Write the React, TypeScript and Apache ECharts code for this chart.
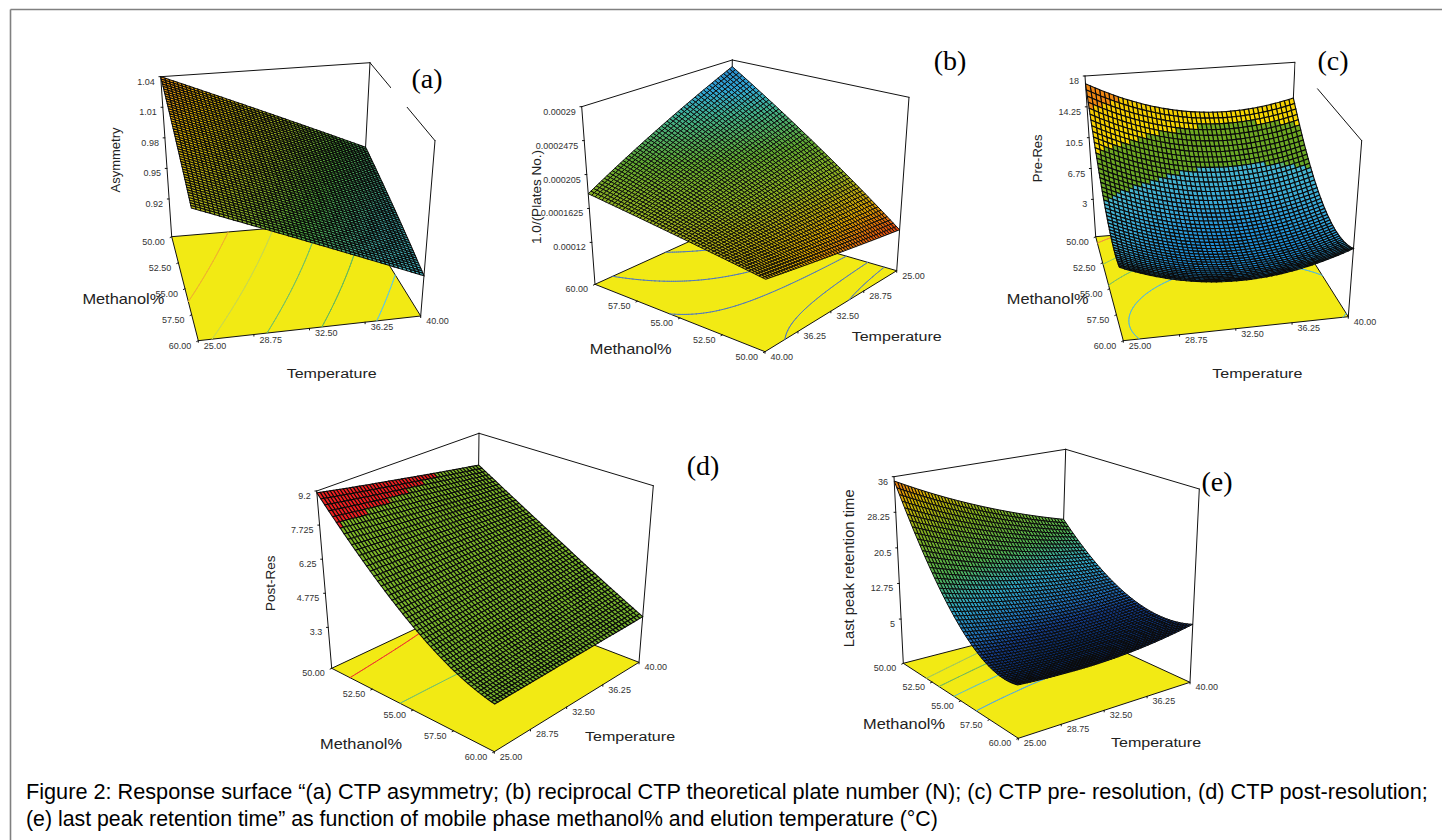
import React, { useEffect, useRef } from "react";
import * as echarts from "echarts";

const temperatureTicks = [25, 28.75, 32.5, 36.25, 40];
const methanolTicks = [50, 52.5, 55, 57.5, 60];
const temperatureLabels = ["25.00", "28.75", "32.50", "36.25", "40.00"];
const methanolLabels = ["50.00", "52.50", "55.00", "57.50", "60.00"];

// rows: methanol 50..60, columns: temperature 25..40
const surfaceA = [
  [1.04, 1.019, 0.998, 0.977, 0.956],
  [1.03, 1.00919, 0.98838, 0.96756, 0.94675],
  [1.02, 0.99938, 0.97875, 0.95813, 0.9375],
  [1.01, 0.98956, 0.96913, 0.94869, 0.92825],
  [1.0, 0.97975, 0.9595, 0.93925, 0.919],
];
const surfaceB = [
  [0.00012, 0.00012825, 0.0001365, 0.00014475, 0.000153],
  [0.00016025, 0.00016019, 0.00016013, 0.00016006, 0.00016],
  [0.0002005, 0.00019213, 0.00018375, 0.00017538, 0.000167],
  [0.00024075, 0.00022406, 0.00020738, 0.00019069, 0.000174],
  [0.000281, 0.000256, 0.000231, 0.000206, 0.000181],
];
const surfaceC = [
  [17.06, 14.3, 12.8, 12.57, 13.6],
  [11.76, 9.19, 7.87, 7.83, 9.04],
  [8.23, 5.84, 4.71, 4.85, 6.26],
  [6.48, 4.28, 3.33, 3.66, 5.25],
  [6.51, 4.49, 3.74, 4.25, 6.02],
];
const surfaceD = [
  [9.12, 8.77, 8.43, 8.08, 7.74],
  [6.89, 6.8, 6.72, 6.63, 6.55],
  [5.21, 5.27, 5.33, 5.39, 5.45],
  [4.07, 4.16, 4.25, 4.34, 4.43],
  [3.48, 3.49, 3.5, 3.5, 3.51],
];
const surfaceE = [
  [35.06, 30.4, 26.3, 22.7, 19.6],
  [20.82, 17.91, 15.53, 13.7, 12.48],
  [11.2, 9.6, 8.44, 7.93, 8.1],
  [6.2, 5.4, 5.03, 5.36, 6.45],
  [5.85, 5.35, 5.3, 6.0, 7.56],
];

const zTicksA = [0.92, 0.95, 0.98, 1.01, 1.04];
const zLabelsA = ["0.92", "0.95", "0.98", "1.01", "1.04"];
const zTicksB = [0.00012, 0.0001625, 0.000205, 0.0002475, 0.00029];
const zLabelsB = ["0.00012", "0.0001625", "0.000205", "0.0002475", "0.00029"];
const zTicksC = [3, 6.75, 10.5, 14.25, 18];
const zLabelsC = ["3", "6.75", "10.5", "14.25", "18"];
const zTicksD = [3.3, 4.775, 6.25, 7.725, 9.2];
const zLabelsD = ["3.3", "4.775", "6.25", "7.725", "9.2"];
const zTicksE = [5, 12.75, 20.5, 28.25, 36];
const zLabelsE = ["5", "12.75", "20.5", "28.25", "36"];

const contourLevelsA = [1.015, 0.995, 0.975, 0.955, 0.935];
const contourLevelsB = [0.000233, 0.000194, 0.0001687, 0.000148, 0.000132];
const contourLevelsC = [15.6, 11.5, 8.6, 5.8];
const contourLevelsD = [8.05, 5.69];
const contourLevelsE = [23.3, 18.1, 13.1, 7.94];

const captionLines = [
  "Figure 2: Response surface “(a) CTP asymmetry; (b) reciprocal CTP theoretical plate number (N); (c) CTP pre- resolution, (d) CTP post-resolution;",
  "(e) last peak retention time” as function of mobile phase methanol% and elution temperature (°C)",
];

type Pt = [number, number];
const PANELS: any[] = [
  {
    name: "(a)", labelAt: [427, 78], mask: [391, 48, 75, 59], yTitle: "Asymmetry", yTitleAt: [115, 160], yTitleSize: 13,
    methanolAt: [123.3, 299.3], temperatureAt: [331.7, 373.3],
    surface: surfaceA, zTicks: zTicksA, zLabels: zLabelsA, zFloor: 0.883, levels: contourLevelsA,
    levelColors: ["#f0b030", "#c8d850", "#70c068", "#60b860", "#60c8e0"],
    stops: [[0.919, "#48c0d0"], [0.94, "#40a8a0"], [0.965, "#50b040"], [0.99, "#a0b820"], [1.02, "#e8b800"], [1.04, "#f09010"]],
    floor: [[171.7, 236.7], [361.7, 220.7], [198.3, 340.7], [420.7, 316]],
    top: [[160.7, 76.7], [370, 62.7], [189, 162.7], [435, 140.7]],
    walls: [0, 1, 3], tEdge: 1, mEdge: 0, cells: 52, mesh: 1.02,
  },
  {
    name: "(b)", labelAt: [950, 60], yTitle: "1.0/(Plates No.)", yTitleAt: [536, 197], yTitleSize: 13.5,
    methanolAt: [630.7, 349], temperatureAt: [896.7, 336],
    surface: surfaceB, zTicks: zTicksB, zLabels: zLabelsB, zFloor: 0.0000675, levels: contourLevelsB,
    levelColors: ["#5078c0", "#5078c0", "#5078c0", "#5078c0", "#5078c0"],
    stops: [[0.00012, "#e04010"], [0.000145, "#d8a000"], [0.000175, "#90b020"], [0.000205, "#60a830"], [0.00024, "#40b090"], [0.00026, "#30a8d8"], [0.00029, "#2878c0"]],
    floor: [[896.7, 270.7], [765, 351.7], [730.7, 222.7], [595, 284.3]],
    top: [[909, 97.3], [766.7, 163.3], [732.3, 60], [581.7, 106.7]],
    walls: [3, 2, 0], tEdge: 0, mEdge: 1, cells: 52, mesh: 0.95,
  },
  {
    name: "(c)", labelAt: [1333, 60], mask: [1295.5, 30, 75, 58.5], yTitle: "Pre-Res", yTitleAt: [1037.3, 158.3], yTitleSize: 13,
    methanolAt: [1047.7, 299.3], temperatureAt: [1257.3, 373.3],
    surface: surfaceC, zTicks: zTicksC, zLabels: zLabelsC, zFloor: -1.54, levels: contourLevelsC,
    levelColors: ["#f09040", "#90c860", "#78c068", "#50b8e0"],
    stops: [[-2, "#1878c8"], [4, "#2090d8"], [5.8, "#38a8d8"], [8.3, "#48b8d0"], [8.31, "#68a828"], [11.5, "#70a820"], [11.51, "#f5d800"], [15, "#f5c800"], [15.01, "#f08a10"], [18, "#f08010"]],
    floor: [[1095.7, 236.7], [1287.7, 220.7], [1123.3, 340.7], [1348.3, 316.7]],
    top: [[1085, 76], [1295, 62.3], [1114, 162.7], [1361.7, 140.7]],
    walls: [0, 1, 3], tEdge: 1, mEdge: 0, cells: 46, mesh: 1.1,
  },
  {
    name: "(d)", labelAt: [703, 465], yTitle: "Post-Res", yTitleAt: [270, 583.3], yTitleSize: 13.5,
    methanolAt: [361, 744], temperatureAt: [630, 736.7],
    surface: surfaceD, zTicks: zTicksD, zLabels: zLabelsD, zFloor: 1.53, levels: contourLevelsD,
    levelColors: ["#f03030", "#70c070"],
    stops: [[1, "#70b030"], [8.05, "#80b828"], [8.06, "#f02020"], [10, "#f02020"]],
    floor: [[331.7, 668.3], [477, 600], [494.3, 751.7], [639, 662.3]],
    top: [[316.7, 491], [479, 433.3], [496, 564.3], [653.3, 485.7]],
    walls: [0, 1, 3], tEdge: 1, mEdge: 0, cells: 50, mesh: 1.05,
  },
  {
    name: "(e)", labelAt: [1217, 481], yTitle: "Last peak retention time", yTitleAt: [849.3, 568.3], yTitleSize: 14.8,
    methanolAt: [904, 724], temperatureAt: [1156, 742.3],
    surface: surfaceE, zTicks: zTicksE, zLabels: zLabelsE, zFloor: -4.63, levels: contourLevelsE,
    levelColors: ["#a0c860", "#70b860", "#60c0c8", "#50a8e8"],
    stops: [[5, "#0a2a60"], [7, "#143c88"], [9, "#2070b8"], [13, "#30a8c8"], [18, "#50b050"], [25, "#80b020"], [31, "#d0b000"], [36, "#f06010"]],
    floor: [[903.3, 663.3], [1060.5, 622.7], [1018.3, 738.3], [1190, 682.3]],
    top: [[894, 476.7], [1065.7, 449.3], [1015.7, 531.7], [1199.3, 489]],
    walls: [0, 1, 3], tEdge: 1, mEdge: 0, cells: 52, mesh: 1,
  },
];

const SANS = '"Liberation Sans", Arial, sans-serif';
const SERIF = '"Liberation Serif", "Times New Roman", serif';

function catmull(p: number[], x: number) {
  const n = p.length - 1;
  const s = Math.min(Math.max(x, 0), 1) * n;
  const i = Math.min(Math.floor(s), n - 1);
  const t = s - i;
  const at = (k: number) => {
    if (k < 0) return 3 * p[0] - 3 * p[1] + p[2];
    if (k > n) return 3 * p[n] - 3 * p[n - 1] + p[n - 2];
    return p[k];
  };
  const a = at(i - 1), b = at(i), c = at(i + 1), d = at(i + 2);
  return 0.5 * (2 * b + (c - a) * t + (2 * a - 5 * b + 4 * c - d) * t * t + (3 * b - a - 3 * c + d) * t * t * t);
}
function height(m: number[][], u: number, v: number) {
  return catmull(m.map((row) => catmull(row, u)), v);
}
function bilin(c: Pt[], u: number, v: number): Pt {
  const x = (1 - v) * ((1 - u) * c[0][0] + u * c[1][0]) + v * ((1 - u) * c[2][0] + u * c[3][0]);
  const y = (1 - v) * ((1 - u) * c[0][1] + u * c[1][1]) + v * ((1 - u) * c[2][1] + u * c[3][1]);
  return [x, y];
}
function hex(c: string) {
  return [1, 3, 5].map((i) => parseInt(c.slice(i, i + 2), 16));
}
function colorAt(stops: any[], z: number) {
  if (z <= stops[0][0]) return stops[0][1];
  for (let i = 1; i < stops.length; i++) {
    if (z <= stops[i][0]) {
      const f = (z - stops[i - 1][0]) / (stops[i][0] - stops[i - 1][0]);
      const a = hex(stops[i - 1][1]), b = hex(stops[i][1]);
      return `rgb(${a.map((x, k) => Math.round(x + (b[k] - x) * f)).join(",")})`;
    }
  }
  return stops[stops.length - 1][1];
}

function buildPanel(panel: any, params: any, api: any) {
  if (params.dataIndex !== 0) return null;
  const cs = params.coordSys;
  const uOf = (t: number) => (api.coord([t, methanolTicks[0]])[0] - cs.x) / cs.width;
  const vOf = (m: number) => 1 - (api.coord([temperatureTicks[0], m])[1] - cs.y) / cs.height;
  const zTop = panel.zTicks[panel.zTicks.length - 1];
  const zFrac = (z: number) => (z - panel.zFloor) / (zTop - panel.zFloor);
  const project = (u: number, v: number, z: number): Pt => {
    const f = bilin(panel.floor, u, v), t = bilin(panel.top, u, v), k = zFrac(z);
    return [f[0] + (t[0] - f[0]) * k, f[1] + (t[1] - f[1]) * k];
  };
  const floorAt = (u: number, v: number) => bilin(panel.floor, u, v);
  const line = (a: Pt, b: Pt, stroke: string, lineWidth: number) => ({
    type: "line", shape: { x1: a[0], y1: a[1], x2: b[0], y2: b[1] }, style: { stroke, lineWidth, lineCap: "round" },
  });
  const text = (x: number, y: number, s: string, size: number, align: string, fill: string) => ({
    type: "text", x, y, style: { x: 0, y: 0, text: s, fill, fontSize: size, fontFamily: SANS, align, verticalAlign: "middle" },
  });
  const children: any[] = [];

  // walls of the box
  const [w0, w1, w2] = panel.walls;
  [w0, w1, w2].forEach((i: number) => children.push(line(panel.floor[i], panel.top[i], "#111", 1)));
  children.push(line(panel.top[w0], panel.top[w1], "#111", 1));
  children.push(line(panel.top[w1], panel.top[w2], "#111", 1));

  // floor
  const f = panel.floor;
  children.push({
    type: "polygon", shape: { points: [f[0], f[1], f[3], f[2]] },
    style: { fill: "#F2EA14", stroke: "#111", lineWidth: 1 },
  });

  // contours, marching squares on the floor
  const N = 70;
  const field: number[][] = [];
  for (let j = 0; j <= N; j++) {
    const r: number[] = [];
    for (let i = 0; i <= N; i++) r.push(height(panel.surface, i / N, j / N));
    field.push(r);
  }
  panel.levels.forEach((lv: number, li: number) => {
    for (let j = 0; j < N; j++) {
      for (let i = 0; i < N; i++) {
        const c = [field[j][i], field[j][i + 1], field[j + 1][i + 1], field[j + 1][i]];
        const q: Pt[] = [[i, j], [i + 1, j], [i + 1, j + 1], [i, j + 1]];
        const hits: Pt[] = [];
        for (let e = 0; e < 4; e++) {
          const a = c[e], b = c[(e + 1) % 4];
          if ((a - lv) * (b - lv) < 0) {
            const k = (lv - a) / (b - a);
            const p = q[e], s = q[(e + 1) % 4];
            hits.push(floorAt((p[0] + (s[0] - p[0]) * k) / N, (p[1] + (s[1] - p[1]) * k) / N));
          }
        }
        if (hits.length >= 2) children.push(line(hits[0], hits[1], panel.levelColors[li], 1));
      }
    }
  });

  // tick marks and labels
  const tv = panel.tEdge, mu = panel.mEdge;
  temperatureTicks.forEach((t, i) => {
    const p = floorAt(uOf(t), tv);
    children.push(line(p, [p[0], p[1] + 1.6], "#111", 1));
    children.push(text(p[0] + 16.8, p[1] + 5, temperatureLabels[i], 9, "center", "#333"));
  });
  methanolTicks.forEach((m, i) => {
    const p = floorAt(mu, vOf(m));
    children.push(line(p, [p[0] - 1.6, p[1] + 0.8], "#111", 1));
    children.push(text(p[0] - 18.3, p[1] + 5, methanolLabels[i], 9, "center", "#333"));
  });
  const zu = w0 % 2, zv = w0 >= 2 ? 1 : 0;
  panel.zTicks.forEach((z: number, i: number) => {
    const p = project(zu, zv, z);
    children.push(line(p, [p[0] - 1.8, p[1]], "#111", 1));
    children.push(text(p[0] - 6, p[1] + 5, panel.zLabels[i], 9, "right", "#333"));
  });

  // surface, far cells first
  const n = panel.cells;
  const cells: any[] = [];
  for (let j = 0; j < n; j++) {
    for (let i = 0; i < n; i++) {
      const uc = (i + 0.5) / n, vc = (j + 0.5) / n;
      cells.push({ i, j, depth: floorAt(uc, vc)[1], z: height(panel.surface, uc, vc) });
    }
  }
  cells.sort((a, b) => a.depth - b.depth);
  cells.forEach(({ i, j, z }) => {
    const corner = (a: number, b: number) => project(a / n, b / n, height(panel.surface, a / n, b / n));
    children.push({
      type: "polygon",
      shape: { points: [corner(i, j), corner(i + 1, j), corner(i + 1, j + 1), corner(i, j + 1)] },
      style: { fill: colorAt(panel.stops, z), stroke: "#0a0a0a", lineWidth: panel.mesh },
    });
  });

  // panel mask, tag and axis titles
  if (panel.mask) {
    const [x, y, w, h] = panel.mask;
    children.push({ type: "rect", shape: { x, y, width: w, height: h }, style: { fill: "#fff" } });
  }
  children.push({
    type: "text", x: panel.labelAt[0], y: panel.labelAt[1],
    style: { x: 0, y: 0, text: panel.name, fill: "#000", fontSize: 28, fontFamily: SERIF, align: "center", verticalAlign: "middle" },
  });
  children.push({ ...text(panel.methanolAt[0], panel.methanolAt[1], "Methanol%", 14, "center", "#222"), scaleX: 1.17 });
  children.push({ ...text(panel.temperatureAt[0], panel.temperatureAt[1], "Temperature", 13.5, "center", "#222"), scaleX: 1.19 });
  children.push({ ...text(panel.yTitleAt[0], panel.yTitleAt[1], panel.yTitle, panel.yTitleSize, "center", "#222"), rotation: Math.PI / 2 });

  return { type: "group", children };
}

export default function App() {
  const ref = useRef<HTMLDivElement>(null);
  useEffect(() => {
    const chart = echarts.init(ref.current!, undefined, { renderer: "svg" });
    const grids: any[] = [], xAxes: any[] = [], yAxes: any[] = [], series: any[] = [];
    PANELS.forEach((panel, idx) => {
      grids.push({ left: panel.floor[0][0], top: panel.top[0][1], width: 100, height: 100, containLabel: false });
      xAxes.push({ type: "value", gridIndex: idx, min: temperatureTicks[0], max: temperatureTicks[4], show: false });
      yAxes.push({ type: "value", gridIndex: idx, min: methanolTicks[0], max: methanolTicks[4], show: false });
      const data: number[][] = [];
      panel.surface.forEach((row: number[], j: number) =>
        row.forEach((z: number, i: number) => data.push([temperatureTicks[i], methanolTicks[j], z])),
      );
      series.push({
        type: "custom", coordinateSystem: "cartesian2d", xAxisIndex: idx, yAxisIndex: idx,
        clip: false, silent: true, data, encode: { x: 0, y: 1 },
        renderItem: (params: any, api: any) => buildPanel(panel, params, api),
      });
    });
    chart.setOption({
      animation: false,
      backgroundColor: "#fff",
      grid: grids, xAxis: xAxes, yAxis: yAxes, series,
      graphic: [
        { type: "line", z: 50, silent: true, shape: { x1: 10.5, y1: 9.5, x2: 1442, y2: 9.5 }, style: { stroke: "#808080", lineWidth: 1.6 } },
        { type: "line", z: 50, silent: true, shape: { x1: 10.5, y1: 9.5, x2: 10.5, y2: 840 }, style: { stroke: "#808080", lineWidth: 1.6 } },
        ...captionLines.map((s, i) => ({
          type: "text", z: 50, silent: true, x: 26, y: 792 + i * 27, scaleX: i === 0 ? 1.018 : 1,
          style: { x: 0, y: 0, text: s, fill: "#000", fontSize: 21.3, fontFamily: SANS, align: "left", verticalAlign: "middle" },
        })),
      ],
    });
    return () => chart.dispose();
  }, []);
  return <div ref={ref} style={{ position: "fixed", left: 0, top: 0, width: 1442, height: 840, background: "#fff" }} />;
}
